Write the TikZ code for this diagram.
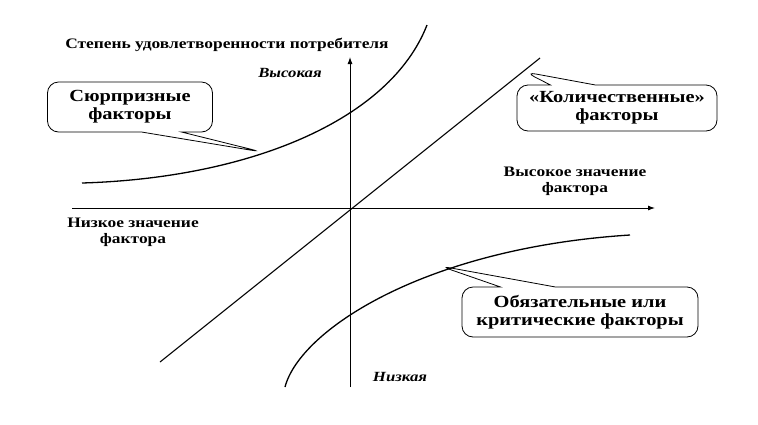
\documentclass[tikz,border=0pt]{standalone}
\usepackage{fontspec}
\setmainfont{Liberation Serif}
\newfontfamily\widefont[FakeStretch=1.2]{Liberation Serif}
\usetikzlibrary{shapes.callouts,arrows.meta}
\begin{document}
\begin{tikzpicture}[x=1pt,y=-1pt,
  axis/.style={line width=0.9pt,-{Latex[length=7pt,width=5pt]}},
  curve/.style={line width=1.3pt},
  lbl/.style={font=\widefont\bfseries\fontsize{14.5}{16}\selectfont,align=center,inner sep=0pt},
  ital/.style={font=\widefont\bfseries\itshape\fontsize{14}{16}\selectfont,inner sep=0pt},
  bubble/.style={rectangle callout,draw,line width=0.8pt,rounded corners=11pt,
     font=\widefont\bfseries\fontsize{17}{19}\selectfont,align=center,inner sep=0pt}]
\useasboundingbox (0,0) rectangle (758,424);
% axes
\coordinate (ybot) at (350,387);
\coordinate (ytop) at (350,57);
\coordinate (xl) at (72,208);
\coordinate (xr) at (655,208);
\draw[axis] (ybot) -- (ytop);
\draw[axis] (xl) -- (xr);
% diagonal
\coordinate (d1) at (160,362);
\coordinate (d2) at (540,58);
\draw[line width=1.1pt] (d1) -- (d2);
% curves
\draw[curve] (82,183) .. controls (250,178) and (390,120) .. (427,25);
\draw[curve] (285,387) .. controls (300,330) and (425,248) .. (630,235);
% callouts
\node[bubble,minimum width=165pt,minimum height=50pt,callout pointer width=40pt,callout absolute pointer={(262,152)}] (c1) at (130,107) {Сюрпризные\\[-1pt]факторы};
\node[bubble,minimum width=200pt,minimum height=46pt,callout pointer width=45pt,callout absolute pointer={(525,72)}] (c2) at (617,108) {«Количественные»\\[-1pt]факторы};
\node[bubble,minimum width=236pt,minimum height=50pt,callout pointer width=55pt,callout absolute pointer={(440,266)}] (c3) at (580,312) {Обязательные или\\[-1pt]критические факторы};
% labels
\node[lbl] (t) at (227,45) {Степень удовлетворенности потребителя};
\node[ital] (hi) at (290,73) {Высокая};
\node[ital] (lo) at (400,377) {Низкая};
\node[lbl] (xh) at (575,181) {Высокое значение\\фактора};
\node[lbl] (xlo) at (133,232) {Низкое значение\\фактора};
\end{tikzpicture}
\end{document}
